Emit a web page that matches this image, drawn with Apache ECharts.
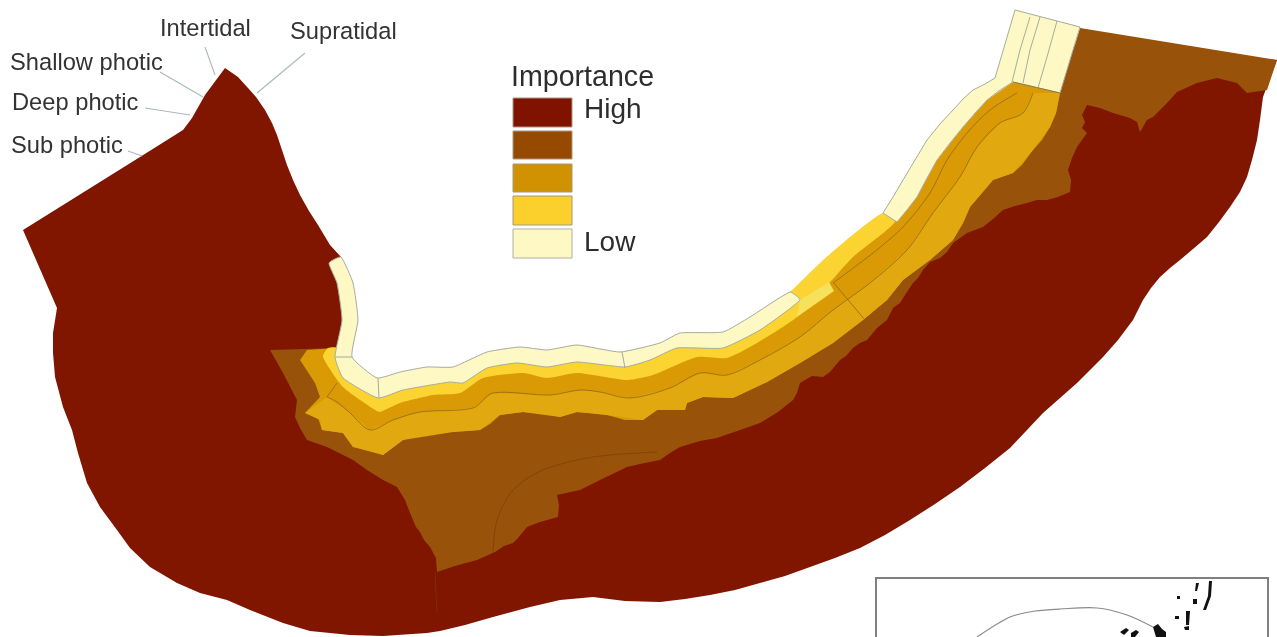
<!DOCTYPE html>
<html><head><meta charset="utf-8">
<style>html,body{margin:0;padding:0;background:#fff}#c{width:1277px;height:637px}</style>
<script src="https://cdn.jsdelivr.net/npm/echarts@6/dist/echarts.min.js"></script>
</head><body><div id="c"></div>
<script>
// Zone outlines, in picture units (x right, y down)
const highZone = [[225,68],[238,77],[248,88],[256,97],[265,110],[272,123],[277,135],[282,150],[287,165],[293,180],[300,195],[309,211],[318,225],[330,245],[341,257],[346,300],[340,345],[345,365],[378,388],[450,378],[800,330],[1000,120],[1080,40],[1277,60],[1263,97],[1260,120],[1257,140],[1252,160],[1247,177],[1240,192],[1230,207],[1219,222],[1207,237],[1193,249],[1180,260],[1170,268],[1160,277],[1151,288],[1143,300],[1133,320],[1118,340],[1103,357],[1090,370],[1077,383],[1060,398],[1043,413],[1027,430],[1010,448],[985,468],[960,487],[935,504],[910,520],[885,535],[860,548],[835,558],[810,567],[785,576],[760,583],[735,590],[710,595],[685,599],[660,602],[625,601],[593,597],[560,600],[530,607],[493,617],[465,625],[440,631],[427,633],[383,636],[350,635],[310,631],[283,623],[250,610],[227,600],[200,593],[177,583],[150,567],[130,548],[117,530],[100,507],[87,483],[78,453],[72,430],[63,407],[55,377],[53,353],[53,333],[57,308],[23,230],[140,157],[183,130],[192,118],[205,95]];
const brownZone = [[1080,28],[1277,60],[1267,90],[1247,93],[1237,83],[1217,78],[1197,83],[1177,92],[1167,103],[1153,117],[1147,120],[1140,132],[1137,122],[1130,118],[1113,113],[1100,108],[1087,105],[1082,115],[1085,122],[1082,128],[1087,133],[1077,147],[1072,158],[1068,170],[1071,180],[1070,192],[1058,197],[1047,200],[1037,200],[1027,203],[1015,206],[1003,210],[993,219],[983,227],[967,233],[953,243],[947,252],[940,258],[930,262],[923,270],[918,278],[913,283],[905,295],[900,303],[893,308],[887,320],[877,328],[867,340],[860,343],[853,348],[846,356],[840,360],[830,372],[823,377],[812,376],[800,383],[797,393],[793,400],[778,412],[760,423],[740,430],[717,438],[700,441],[680,447],[670,453],[660,460],[640,464],[627,467],[600,480],[580,490],[557,495],[559,505],[558,517],[540,522],[527,527],[518,538],[513,543],[504,546],[495,552],[477,560],[455,566],[437,572],[436,558],[430,547],[424,540],[420,532],[416,527],[410,513],[405,500],[397,487],[383,480],[367,470],[353,460],[327,447],[307,440],[300,428],[295,417],[297,400],[283,373],[270,350],[337,348],[360,400],[470,420],[550,400],[627,400],[700,380],[760,370],[830,310],[900,260],[950,200],[1000,130],[1050,100],[1060,93]];
const goldZone = [[1013,82],[1060,93],[1056,113],[1050,127],[1042,140],[1033,150],[1022,165],[1013,173],[993,180],[982,193],[970,207],[963,223],[953,240],[930,260],[903,280],[887,300],[863,320],[833,343],[800,363],[767,382],[733,398],[703,397],[687,403],[685,410],[680,410],[657,410],[643,420],[625,420],[607,415],[590,413],[577,412],[560,417],[540,413],[523,412],[500,415],[490,424],[480,430],[453,432],[427,433],[403,440],[383,455],[368,449],[353,447],[343,433],[322,430],[318,418],[305,413],[320,397],[315,383],[300,360],[307,350],[337,348],[343,374],[380,400],[400,398],[433,390],[460,388],[483,373],[523,368],[547,372],[577,368],[627,375],[653,370],[697,352],[727,353],[757,338],[797,312],[832,276],[853,253],[892,219],[917,197],[937,160],[963,127],[987,100]];
const goldInner = [[1033,93],[1023,113],[1000,123],[977,147],[960,177],[933,213],[907,250],[870,283],[833,310],[800,337],[760,360],[727,375],[700,373],[670,388],[630,398],[600,392],[580,390],[550,395],[493,393],[473,408],[420,412],[393,420],[370,430],[350,413],[327,397],[305,413],[320,420],[322,430],[343,433],[353,447],[383,455],[403,440],[453,432],[480,430],[500,415],[523,412],[560,417],[577,412],[607,415],[643,420],[657,410],[685,410],[687,403],[703,397],[733,398],[767,382],[800,363],[833,343],[863,320],[887,300],[903,280],[930,260],[953,240],[963,223],[970,207],[993,180],[1013,173],[1033,150],[1050,127],[1056,113],[1060,93]];
const yellowZone = [[323,357],[328,348],[338,348],[346,365],[378,388],[400,381],[450,375],[487,360],[520,355],[547,358],[577,353],[622,360],[660,351],[680,342],[723,340],[750,325],[790,292],[820,263],[850,237],[883,213],[895,222],[853,257],[832,280],[797,317],[757,343],[727,358],[697,357],[653,375],[627,380],[577,373],[547,378],[523,373],[483,378],[460,393],[433,395],[400,403],[380,412],[375,410],[343,387]];
const paleWest = [[329,263],[341,257],[353,283],[358,320],[352,357],[377,378],[400,372],[427,367],[453,367],[487,352],[520,347],[547,350],[577,345],[620,352],[660,343],[680,333],[723,332],[750,317],[790,292],[800,300],[760,330],[723,348],[677,348],[650,360],[625,367],[577,362],[547,367],[517,363],[487,368],[463,383],[450,382],[403,390],[378,398],[343,378],[335,357],[342,320],[337,283]];
const paleEast = [[883,213],[893,197],[903,180],[915,160],[927,140],[940,124],[953,110],[963,99],[973,90],[985,84],[995,78],[1015,10],[1080,27],[1060,93],[1013,82],[1000,90],[987,100],[975,113],[963,127],[950,143],[937,160],[927,178],[917,197],[907,210],[897,222]];
const paleTint = [[800,300],[829,282],[834,291],[797,317]];
const insetIslands = [[[1153,627],[1158,624],[1162,629],[1166,632],[1166,637],[1156,637]],[[1120,632],[1126,628],[1129,630],[1124,635]],[[1131,633],[1136,630],[1139,632],[1135,637],[1131,637]],[[1209,581],[1212,581],[1211,596],[1206,610],[1203,610],[1208,596]],[[1196,583],[1199,583],[1197,591],[1195,591]],[[1186,611],[1190,611],[1189,625],[1186,625]],[[1184,627],[1189,626],[1189,630],[1185,630]],[[1177,596],[1180,596],[1180,599],[1177,599]],[[1193,599],[1197,599],[1197,604],[1193,604]],[[1175,616],[1179,616],[1179,619],[1175,619]]];
// Thin lines
const paleLines = [[[1030,17],[1020,50],[1012,82]],[[1040,17],[1030,50],[1023,83]],[[1057,21],[1047,57],[1038,88]],[[378,378],[379,398]],[[622,352],[625,368]],[[335,357],[352,357]]];
const goldLines = [[[1017,93],[990,110],[967,133],[947,160],[930,193],[903,227],[873,253],[833,283]],[[1033,93],[1023,113],[1000,123],[977,147],[960,177],[933,213],[907,250],[870,283],[833,310],[800,337],[760,360],[727,375],[700,373],[670,388],[630,398],[600,392],[580,390],[550,395],[493,393],[473,408],[420,412],[393,420],[370,430],[350,413],[337,402],[327,397]],[[833,282],[865,320]],[[327,397],[337,383]],[[1013,82],[1060,93]]];
const brownLines = [[[657,452],[593,457],[543,470],[513,490],[497,520],[493,553]],[[435,572],[437,613]]];
const leaderLines = [[[205,47],[215,75]],[[305,53],[257,93]],[[160,72],[203,97]],[[145,108],[190,115]],[[128,151],[142,156]]];
const insetFrame = [[876,637],[876,578],[1268,578],[1268,637]];
const insetArc = [[977,637],[1010,617],[1035,611],[1060,609],[1097,608],[1127,615],[1153,627]];
// Labels
const zoneLabels = ['Intertidal','Supratidal','Shallow photic','Deep photic','Sub photic'];
const zoneLabelX = [160,290,10,12,11];
const zoneLabelY = [29,32,63,103,146];
const legendTitle = 'Importance';
const legendColors = ['#7f1300','#964a00','#d09200','#fbcf2c','#fdf8c4'];
const legendTop = [98,131,164,196,229];
const legendBottom = [127,159,192,225,258];
const legendLabels = ['High','','','','Low'];

const polygonLayers = [
  {shapes:[highZone], fill:'#801500', stroke:'none', smooth:0},
  {shapes:[brownZone], fill:'#98520a', stroke:'none', smooth:0},
  {shapes:[goldZone], fill:'#d99a05', stroke:'none', smooth:0},
  {shapes:[goldInner], fill:'#e2a80f', stroke:'none', smooth:0},
  {shapes:[yellowZone], fill:'#fbd431', stroke:'none', smooth:0.2},
  {shapes:[paleWest], fill:'#fdf8c4', stroke:'#a5aca0', smooth:0.15},
  {shapes:[paleEast], fill:'#fdf8c4', stroke:'#a5aca0', smooth:0},
  {shapes:[paleTint], fill:'#f6e05c', stroke:'none', smooth:0},
  {shapes:insetIslands, fill:'#111111', stroke:'none', smooth:0}
];
const lineLayers = [
  {lines:paleLines, color:'#a5aca0', width:1, smooth:0},
  {lines:goldLines, color:'#8f6a10', width:0.8, smooth:0.3},
  {lines:brownLines, color:'#7a3d05', width:0.7, smooth:0.3},
  {lines:leaderLines, color:'#a9b8bd', width:1.1, smooth:0},
  {lines:[insetFrame], color:'#808080', width:2, smooth:0},
  {lines:[insetArc], color:'#8a8a8a', width:1.2, smooth:0.3}
];

function polySeries(layer){
  return {type:'custom', coordinateSystem:'cartesian2d', silent:true, clip:false,
    data:layer.shapes.map((s,i)=>[i]),
    encode:{x:0},
    renderItem:function(p,api){
      const shape=layer.shapes[api.value(0)];
      return {type:'polygon', shape:{points:shape.map(c=>api.coord(c)), smooth:layer.smooth},
        style:{fill:layer.fill, stroke:layer.stroke==='none'?null:layer.stroke, lineWidth:1}};
    }};
}
function lineSeries(layer){
  return {type:'custom', coordinateSystem:'cartesian2d', silent:true, clip:false,
    data:layer.lines.map((s,i)=>[i]),
    encode:{x:0},
    renderItem:function(p,api){
      const l=layer.lines[api.value(0)];
      return {type:'polyline', shape:{points:l.map(c=>api.coord(c)), smooth:layer.smooth},
        style:{fill:null, stroke:layer.color, lineWidth:layer.width}};
    }};
}
const legendSeries = {type:'custom', coordinateSystem:'cartesian2d', silent:true, clip:false,
  data:legendColors.map((c,i)=>[i]), encode:{x:0},
  renderItem:function(p,api){
    const i=api.value(0);
    const a=api.coord([513,legendTop[i]]), b=api.coord([572,legendBottom[i]]);
    const kids=[{type:'rect', shape:{x:a[0],y:a[1],width:b[0]-a[0],height:b[1]-a[1]},
      style:{fill:legendColors[i], stroke:i===4?'#b0b0a0':'#a89880', lineWidth:1}}];
    if(legendLabels[i]) kids.push({type:'text', style:{text:legendLabels[i], x:584, y:(i===0?110:243), fill:'#2d2d2d',
      font:'28px "Liberation Sans"', verticalAlign:'middle'}});
    return {type:'group', children:kids};
  }};
const textSeries = {type:'custom', coordinateSystem:'cartesian2d', silent:true, clip:false,
  data:zoneLabels.map((c,i)=>[i]), encode:{x:0},
  renderItem:function(p,api){
    const i=api.value(0), q=api.coord([zoneLabelX[i],zoneLabelY[i]]);
    return {type:'text', style:{text:zoneLabels[i], x:q[0], y:q[1], fill:'#333333',
      font:'23.7px "Liberation Sans"', verticalAlign:'middle'}};
  }};
const titleSeries = {type:'custom', coordinateSystem:'cartesian2d', silent:true, clip:false,
  data:[[0]], encode:{x:0},
  renderItem:function(p,api){
    const q=api.coord([511,78]);
    return {type:'text', style:{text:legendTitle, x:q[0], y:q[1], fill:'#2d2d2d',
      font:'28.6px "Liberation Sans"', verticalAlign:'middle'}};
  }};

const chart = echarts.init(document.getElementById('c'), null, {renderer:'canvas'});
chart.setOption({
  animation:false,
  backgroundColor:'#ffffff',
  grid:{left:0,right:0,top:0,bottom:0},
  xAxis:{type:'value',min:0,max:1277,show:false},
  yAxis:{type:'value',min:0,max:637,inverse:true,show:false},
  series:[...polygonLayers.map(polySeries),...lineLayers.map(lineSeries),legendSeries,textSeries,titleSeries]
});
</script></body></html>
